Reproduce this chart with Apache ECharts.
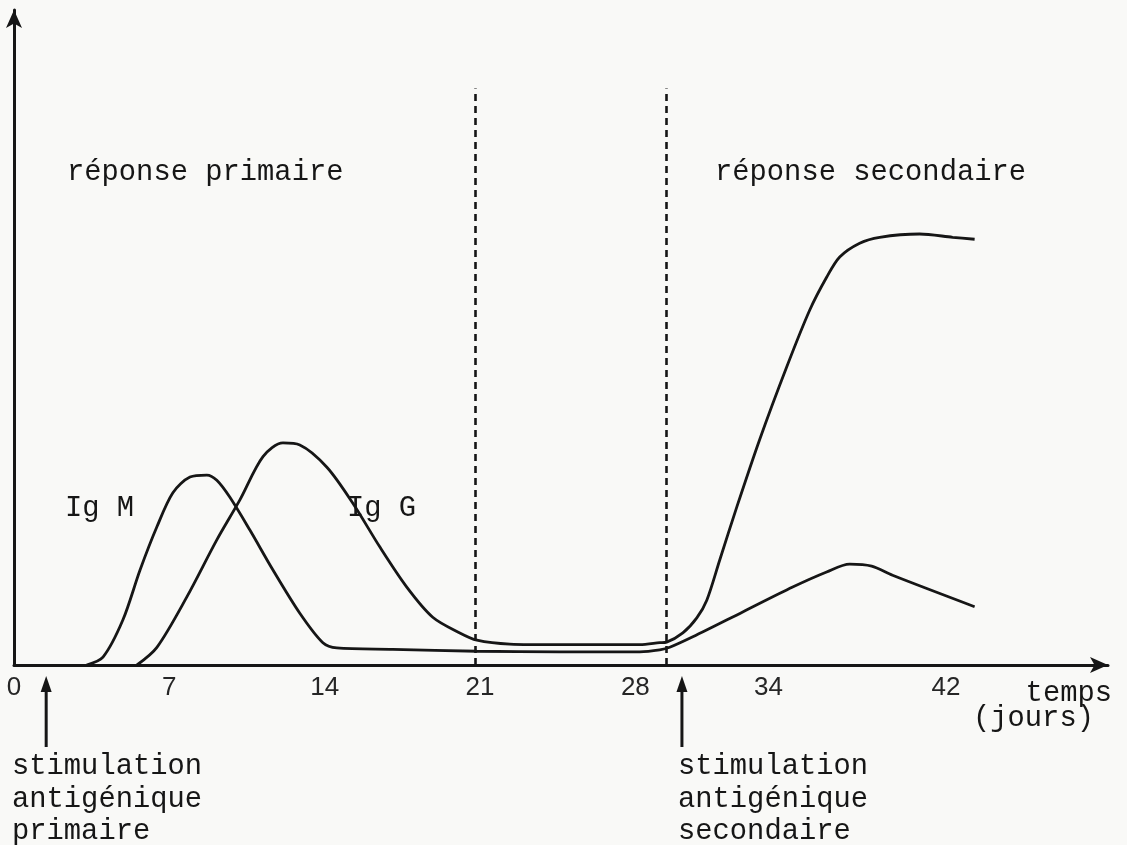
<!DOCTYPE html>
<html>
<head>
<meta charset="utf-8">
<title>réponse primaire / secondaire</title>
<script src="https://cdn.jsdelivr.net/npm/echarts@6/dist/echarts.min.js"></script>
<style>
    html, body { margin: 0; padding: 0; background: #f9f9f7; }
    #main { width: 1127px; height: 845px; }
</style>
</head>
<body>
<div id="main"></div>
<script>
// jours (axe x) et taux d'anticorps (unités arbitraires, 0-100)
var igmDays = [3.27, 4.01, 4.91, 5.68, 6.44, 7.16, 7.93, 8.69, 9.14, 9.73, 10.63, 11.67, 12.88, 13.92, 14.55, 17.07, 20.86, 24.59, 28.2, 29.1, 29.55, 30.59, 32.84, 35.09, 36.62, 37.66, 38.65, 39.59, 43.29];
var igmValues = [0, 1.2, 6.9, 14.5, 21.1, 26.3, 28.7, 29.0, 28.2, 25.6, 20.6, 14.5, 7.9, 3.4, 2.6, 2.4, 2.1, 2.0, 2.0, 2.3, 2.7, 4.3, 8.1, 11.9, 14.2, 15.4, 15.1, 13.7, 8.9];

var iggDays = [5.54, 6.44, 7.79, 9.14, 10.18, 11.22, 12.12, 12.88, 14.1, 15.27, 16.49, 17.7, 18.87, 20.09, 20.86, 22.34, 24.59, 28.2, 29.1, 29.41, 30.14, 30.77, 31.22, 31.8, 32.57, 33.6, 34.82, 35.86, 36.62, 37.21, 38.11, 39.01, 40.81, 42.3, 43.29];
var iggValues = [0, 2.7, 10.4, 19.1, 25.2, 31.8, 33.9, 33.6, 30.2, 24.7, 18.0, 11.9, 7.3, 4.9, 3.8, 3.2, 3.1, 3.1, 3.4, 3.5, 4.9, 7.2, 9.9, 16.0, 24.1, 34.4, 45.5, 54.2, 59.2, 62.3, 64.4, 65.3, 65.8, 65.3, 65.0];

var tickDays = [0, 7, 14, 21, 28, 34, 42];
var dashedDays = [20.8, 29.4];
var dashedTop = 88;
var stimDays = [1.45, 30.1];

var FONT = '"Liberation Mono", "DejaVu Sans Mono", monospace';
var INK = '#161616';

function pairs(xs, ys) {
    var out = [];
    for (var i = 0; i < xs.length; i++) {
        out.push([xs[i], ys[i]]);
    }
    return out;
}

var dashedLines = [];
for (var i = 0; i < dashedDays.length; i++) {
    dashedLines.push([{ coord: [dashedDays[i], 0] }, { coord: [dashedDays[i], dashedTop] }]);
}

var myChart = echarts.init(document.getElementById('main'));

var option = {
    backgroundColor: '#f9f9f7',
    animation: false,
    grid: { left: 14, right: 19, top: 10, bottom: 180 },
    xAxis: {
        type: 'value',
        min: 0,
        max: 49.3,
        interval: 1,
        splitLine: { show: false },
        axisTick: { show: false },
        axisLine: {
            lineStyle: { color: INK, width: 3 },
            symbol: ['none', 'arrow'],
            symbolSize: [12, 18]
        },
        axisLabel: {
            margin: 10,
            fontSize: 26,
            fontFamily: '"Liberation Sans", Arial, sans-serif',
            color: '#262626',
            showMinLabel: true,
            showMaxLabel: false,
            formatter: function (v) {
                return tickDays.indexOf(v) >= 0 ? String(v) : '';
            }
        }
    },
    yAxis: {
        type: 'value',
        min: 0,
        max: 100,
        splitLine: { show: false },
        axisTick: { show: false },
        axisLabel: { show: false },
        axisLine: {
            lineStyle: { color: INK, width: 3 },
            symbol: ['none', 'arrow'],
            symbolSize: [12, 18]
        }
    },
    series: [
        {
            name: 'Ig M',
            type: 'line',
            data: pairs(igmDays, igmValues),
            showSymbol: false,
            smooth: 0.3,
            lineStyle: { color: INK, width: 2.8 },
            markLine: {
                silent: true,
                symbol: ['none', 'none'],
                label: { show: false },
                lineStyle: { color: INK, width: 2.6, type: [7, 5] },
                data: dashedLines
            }
        },
        {
            name: 'Ig G',
            type: 'line',
            data: pairs(iggDays, iggValues),
            showSymbol: false,
            smooth: 0.3,
            lineStyle: { color: INK, width: 2.8 }
        }
    ]
};
myChart.setOption(option);

// textes et flèches de stimulation
function txt(left, y, s, align) {
    return {
        type: 'text',
        x: left,
        y: y,
        style: {
            text: s,
            font: '28.8px ' + FONT,
            fill: INK,
            align: align || 'left',
            verticalAlign: 'middle'
        }
    };
}

var elements = [
    txt(67, 172, 'réponse primaire'),
    txt(715, 172, 'réponse secondaire'),
    txt(65, 508, 'Ig M'),
    txt(347, 508, 'Ig G'),
    txt(1112, 693, 'temps', 'right'),
    txt(973, 718, '(jours)'),
    txt(12, 766, 'stimulation'),
    txt(12, 799, 'antigénique'),
    txt(12, 831, 'primaire'),
    txt(678, 766, 'stimulation'),
    txt(678, 799, 'antigénique'),
    txt(678, 831, 'secondaire')
];

for (var k = 0; k < stimDays.length; k++) {
    var px = myChart.convertToPixel({ gridIndex: 0 }, [stimDays[k], 0])[0];
    elements.push({
        type: 'line',
        shape: { x1: px, y1: 688, x2: px, y2: 747 },
        style: { stroke: INK, lineWidth: 3 }
    });
    elements.push({
        type: 'polygon',
        shape: { points: [[px, 676], [px - 5.5, 692], [px + 5.5, 692]] },
        style: { fill: INK }
    });
}

myChart.setOption({ graphic: { elements: elements } });
</script>
</body>
</html>
